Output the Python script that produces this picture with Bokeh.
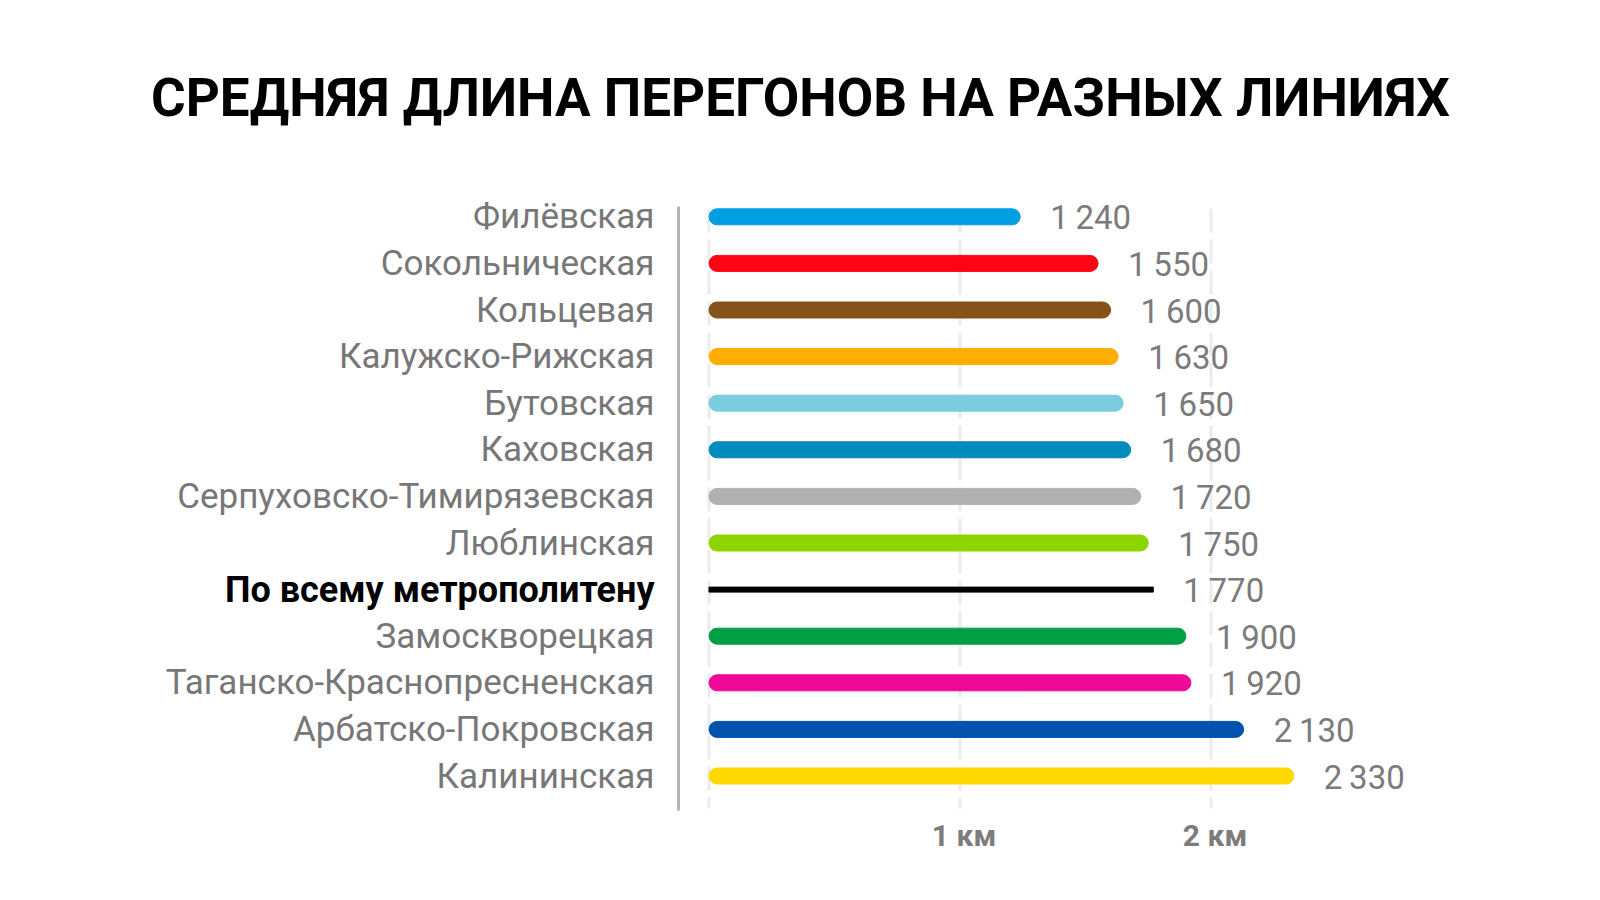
from bokeh.plotting import figure
from bokeh.models import ColumnDataSource, Range1d
from bokeh.core.properties import value
from bokeh.embed import file_html
from bokeh.resources import INLINE

# ---------------- data ----------------
title_text = "СРЕДНЯЯ ДЛИНА ПЕРЕГОНОВ НА РАЗНЫХ ЛИНИЯХ"
lines = [
    "Филёвская",
    "Сокольническая",
    "Кольцевая",
    "Калужско-Рижская",
    "Бутовская",
    "Каховская",
    "Серпуховско-Тимирязевская",
    "Люблинская",
    "По всему метрополитену",
    "Замоскворецкая",
    "Таганско-Краснопресненская",
    "Арбатско-Покровская",
    "Калининская",
]
lengths_m = [1240, 1550, 1600, 1630, 1650, 1680, 1720, 1750, 1770, 1900, 1920, 2130, 2330]
line_colors = [
    "#009FE3", "#FF0513", "#85531A", "#FFAE00", "#7ACCDE", "#008BBD",
    "#B0B0B0", "#8ED500", "#000000", "#009F45", "#F0089A", "#0052AD", "#FFD800",
]
is_total = [False] * 8 + [True] + [False] * 4
grid_values = [0, 1000, 2000]
tick_values = [1000, 2000]
tick_labels = ["1 км", "2 км"]

# ---------------- geometry (pixels) ----------------
W, H = 1600, 900
PX_PER_M = 0.251
ORIGIN_PX = 708.5
ROW0_PX, ROW_STEP = 216.3, 46.6


def mx(px):
    """canvas x pixel -> metres"""
    return (px - ORIGIN_PX) / PX_PER_M


def ry(py):
    """canvas y pixel (from top) -> row units"""
    return (py - ROW0_PX) / ROW_STEP


FONT = "Roboto"
GRAY_TXT = "#7b7b7b"

rows = list(range(len(lines)))


def fmt(v):
    return f"{v:,}".replace(",", "\u2009")


bars = ColumnDataSource(dict(
    y=[r for r, t in zip(rows, is_total) if not t],
    right=[v for v, t in zip(lengths_m, is_total) if not t],
    color=[c for c, t in zip(line_colors, is_total) if not t],
))
total = ColumnDataSource(dict(
    y=[r for r, t in zip(rows, is_total) if t],
    right=[v for v, t in zip(lengths_m, is_total) if t],
    color=[c for c, t in zip(line_colors, is_total) if t],
))
cats = ColumnDataSource(dict(
    y=rows,
    name=lines,
    label_color=["#000000" if t else "#777777" for t in is_total],
    label_style=["bold" if t else "normal" for t in is_total],
    label_size=["36px" if t else "35px" for t in is_total],
))
vals = ColumnDataSource(dict(
    y=rows,
    x=lengths_m,
    txt=[fmt(v) for v in lengths_m],
))

p = figure(
    width=W, height=H,
    x_range=Range1d(mx(0), mx(W)),
    y_range=Range1d(ry(H), ry(0)),
    output_backend="svg", toolbar_location=None,
    min_border=0, x_axis_type=None, y_axis_type=None,
)
p.outline_line_color = None
p.background_fill_color = "white"
p.border_fill_color = "white"
p.grid.visible = False

# dashed vertical grid lines (0, 1 km, 2 km)
p.segment(x0=grid_values, x1=grid_values,
          y0=[ry(208)] * len(grid_values), y1=[ry(808)] * len(grid_values),
          line_color="#ebebeb", line_width=3, line_dash="24 7")

# grey vertical axis line
p.segment(x0=[mx(678)], x1=[mx(678)], y0=[ry(206)], y1=[ry(810)],
          line_color="#b5b5b5", line_width=3)

# bars
p.hbar(y="y", left=0, right="right", height=16 / ROW_STEP, color="color",
       source=bars, border_radius=8)
p.hbar(y="y", left=0, right="right", height=5 / ROW_STEP, color="color",
       source=total)

# category labels
p.text(x=mx(654), y="y", text="name", source=cats, y_offset=0,
       text_align="right", text_baseline="middle",
       text_font=value(FONT), text_font_size="label_size",
       text_color="label_color", text_font_style="label_style")

# value labels
p.text(x="x", y="y", text="txt", source=vals, x_offset=30, y_offset=1,
       text_align="left", text_baseline="middle",
       text_font=value(FONT), text_font_size="33px",
       text_color=GRAY_TXT)

# axis tick labels
p.text(x=[v + 4 / PX_PER_M for v in tick_values], y=[ry(835)] * len(tick_values),
       text=tick_labels, text_align="center", text_baseline="middle",
       text_font=value(FONT), text_font_size="30px", text_font_style="bold",
       text_color="#7c7c7c")

# title
p.text(x=[mx(800)], y=[ry(97)], text=[title_text],
       text_align="center", text_baseline="middle",
       text_font=value(FONT), text_font_size="53px", text_font_style="bold",
       text_color="#000000")

open("out.html", "w").write(file_html(p, INLINE))
